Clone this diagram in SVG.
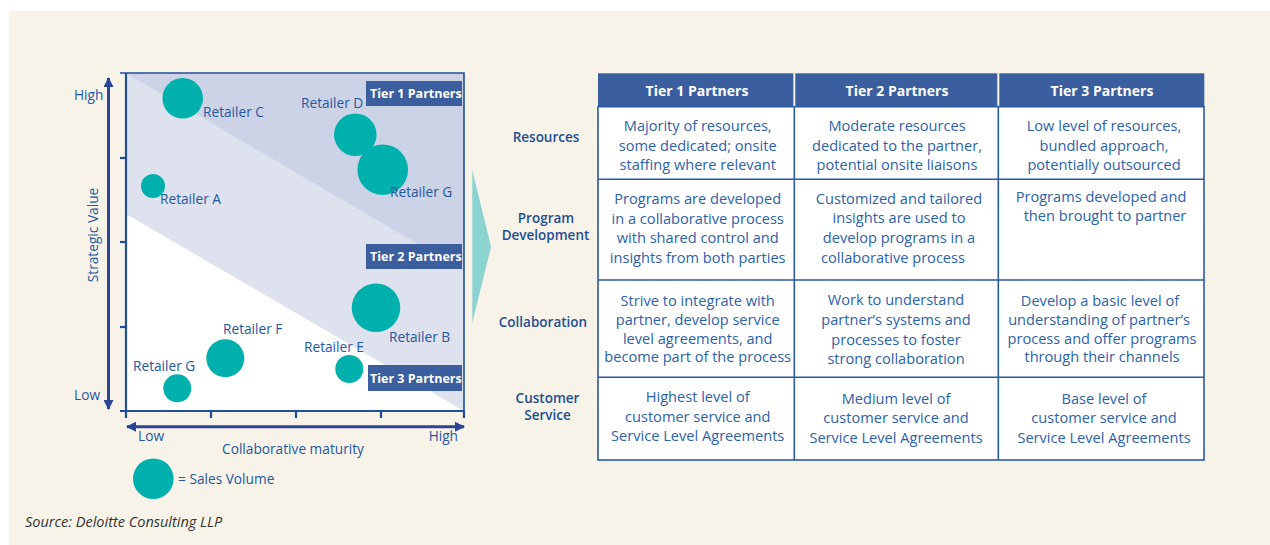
<svg xmlns="http://www.w3.org/2000/svg" width="1270" height="545" viewBox="0 0 1270 545">
<style>
.lbl{font-family:"Open Sans","Liberation Sans",sans-serif;font-size:13.7px;fill:#2458A0}
.tier{font-family:"Open Sans","Liberation Sans",sans-serif;font-size:12.5px;font-weight:700;fill:#fff}
.hdr{font-family:"Open Sans","Liberation Sans",sans-serif;font-size:14px;font-weight:700;fill:#fff;text-anchor:middle}
.row{font-family:"Open Sans","Liberation Sans",sans-serif;font-size:13.5px;font-weight:600;fill:#1F4F93;text-anchor:middle}
.cell{font-family:"Open Sans","Liberation Sans",sans-serif;font-size:14.6px;fill:#2C62AA;text-anchor:middle}
.bub{fill:#00B0AD}
.tbox{fill:#3A5E9E}
.ax{stroke:#2B4595;stroke-width:3;fill:none}
.grid{stroke:#2A5AA0;stroke-width:1.6;fill:none}
</style>
<defs>
<marker id="ah" markerWidth="10" markerHeight="10" refX="9" refY="5" orient="auto" markerUnits="userSpaceOnUse">
<path d="M0,0 L10,5 L0,10 Z" fill="#2B4595"/>
</marker>
</defs>
<rect x="0" y="0" width="1270" height="545" fill="#fff"/>
<rect x="9" y="11" width="1261" height="534" fill="#F7F3E8"/>

<g id="chart">
<rect x="126" y="73" width="338" height="338" fill="#fff"/>
<polygon points="126,73 464,73 464,411 126,214" fill="#DEE1EE"/>
<polygon points="126,73 464,73 464,271" fill="#CDD3E7"/>
<polyline points="120,73 464,73 464,411" class="grid" stroke-width="2.2" style="stroke:#1F4F9A"/>
<line x1="126" y1="73" x2="126" y2="418" style="stroke:#1F4F9A;stroke-width:2.2"/>
<line x1="120" y1="411" x2="464" y2="411" style="stroke:#1F4F9A;stroke-width:2.2"/>
<g style="stroke:#1F4F9A;stroke-width:2.2">
<line x1="120" y1="158" x2="126" y2="158"/>
<line x1="120" y1="242" x2="126" y2="242"/>
<line x1="120" y1="327" x2="126" y2="327"/>
<line x1="211" y1="411" x2="211" y2="418"/>
<line x1="296" y1="411" x2="296" y2="418"/>
<line x1="381" y1="411" x2="381" y2="418"/>
<line x1="464" y1="411" x2="464" y2="418"/>
</g>
</g>

<g id="axes">
<line x1="108.5" y1="243" x2="108.5" y2="78" class="ax" marker-end="url(#ah)"/>
<line x1="108.5" y1="243" x2="108.5" y2="409" class="ax" marker-end="url(#ah)"/>
<line x1="295" y1="426.7" x2="127" y2="426.7" class="ax" marker-end="url(#ah)"/>
<line x1="295" y1="426.7" x2="464" y2="426.7" class="ax" marker-end="url(#ah)"/>
<text class="lbl" x="74" y="100">High</text>
<text class="lbl" x="74" y="400">Low</text>
<text class="lbl" x="98" y="235" text-anchor="middle" transform="rotate(-90 98 235)">Strategic Value</text>
<text class="lbl" x="138" y="441">Low</text>
<text class="lbl" x="458" y="441" text-anchor="end">High</text>
<text class="lbl" x="293" y="454" text-anchor="middle">Collaborative maturity</text>
</g>

<g id="tier1-box"><rect class="tbox" x="366" y="81" width="96" height="25"/><text class="tier" x="370" y="98">Tier 1 Partners</text></g>
<g id="tier2-box"><rect class="tbox" x="366" y="244" width="96" height="25"/><text class="tier" x="370" y="261">Tier 2 Partners</text></g>
<g id="tier3-box"><rect class="tbox" x="368" y="365" width="94" height="26"/><text class="tier" x="370" y="383">Tier 3 Partners</text></g>

<g id="retailer-c"><circle class="bub" cx="182.7" cy="98.3" r="20.3"/><text class="lbl" x="203" y="117">Retailer C</text></g>
<g id="retailer-d"><circle class="bub" cx="355.3" cy="134.7" r="21.3"/><text class="lbl" x="301" y="108">Retailer D</text></g>
<g id="retailer-g1"><circle class="bub" cx="382.7" cy="169.7" r="25.3"/><text class="lbl" x="390" y="197">Retailer G</text></g>
<g id="retailer-a"><circle class="bub" cx="153" cy="186" r="12"/><text class="lbl" x="160" y="203.5">Retailer A</text></g>
<g id="retailer-b"><circle class="bub" cx="376" cy="307.7" r="24.3"/><text class="lbl" x="389" y="342">Retailer B</text></g>
<g id="retailer-f"><circle class="bub" cx="225.3" cy="358.3" r="19"/><text class="lbl" x="223" y="333.5">Retailer F</text></g>
<g id="retailer-e"><circle class="bub" cx="349.3" cy="369" r="14"/><text class="lbl" x="304" y="352">Retailer E</text></g>
<g id="retailer-g2"><circle class="bub" cx="177.3" cy="388.3" r="14"/><text class="lbl" x="133" y="371">Retailer G</text></g>
<g id="legend"><circle class="bub" cx="153.3" cy="478.7" r="20.3"/><text class="lbl" x="178" y="483.5">= Sales Volume</text></g>

<g id="connectors">
<polygon points="472.3,170 491,246.7 472.3,322.7" fill="#8AD3D0"/>
</g>

<g id="table">
<rect x="598" y="106.7" width="606" height="353.3" fill="#fff"/>
<rect class="tbox" x="598" y="73.3" width="195.3" height="33.4"/>
<rect class="tbox" x="795.3" y="73.3" width="202" height="33.4"/>
<rect class="tbox" x="999.3" y="73.3" width="205" height="33.4"/>
<text class="hdr" x="697" y="95.5">Tier 1 Partners</text>
<text class="hdr" x="897" y="95.5">Tier 2 Partners</text>
<text class="hdr" x="1102" y="95.5">Tier 3 Partners</text>
<g class="grid">
<rect x="598" y="106.7" width="606" height="353.3"/>
<line x1="598" y1="179.3" x2="1204" y2="179.3"/>
<line x1="598" y1="280" x2="1204" y2="280"/>
<line x1="598" y1="377.3" x2="1204" y2="377.3"/>
<line x1="794.3" y1="106.7" x2="794.3" y2="460"/>
<line x1="998.3" y1="106.7" x2="998.3" y2="460"/>
</g>
</g>

<g id="row-labels">
<text class="row" x="546" y="142">Resources</text>
<text class="row" x="546" y="223">Program</text>
<text class="row" x="545.5" y="239.5">Development</text>
<text class="row" x="543" y="327">Collaboration</text>
<text class="row" x="547.5" y="403">Customer</text>
<text class="row" x="547.5" y="419.5">Service</text>
</g>

<g id="cells">
<text class="cell" x="697.7" y="131">Majority of resources,</text>
<text class="cell" x="697.7" y="150.5">some dedicated; onsite</text>
<text class="cell" x="697.7" y="170">staffing where relevant</text>

<text class="cell" x="897" y="131">Moderate resources</text>
<text class="cell" x="897" y="150.5">dedicated to the partner,</text>
<text class="cell" x="897" y="170">potential onsite liaisons</text>

<text class="cell" x="1104" y="131">Low level of resources,</text>
<text class="cell" x="1104" y="150.5">bundled approach,</text>
<text class="cell" x="1104" y="170">potentially outsourced</text>

<text class="cell" x="697.7" y="204">Programs are developed</text>
<text class="cell" x="697.7" y="223.5">in a collaborative process</text>
<text class="cell" x="697.7" y="243">with shared control and</text>
<text class="cell" x="697.7" y="262.5">insights from both parties</text>

<text class="cell" x="899" y="203.5">Customized and tailored</text>
<text class="cell" x="899" y="223">insights are used to</text>
<text class="cell" x="899" y="242.5">develop programs in a</text>
<text class="cell" x="893" y="262.5">collaborative process</text>

<text class="cell" x="1101" y="202">Programs developed and</text>
<text class="cell" x="1105" y="220.5">then brought to partner</text>

<text class="cell" x="697.7" y="306">Strive to integrate with</text>
<text class="cell" x="697.7" y="324.5">partner, develop service</text>
<text class="cell" x="697.7" y="343.5">level agreements, and</text>
<text class="cell" x="697.7" y="361.5">become part of the process</text>

<text class="cell" x="896" y="305">Work to understand</text>
<text class="cell" x="896" y="325">partner’s systems and</text>
<text class="cell" x="896" y="345">processes to foster</text>
<text class="cell" x="896" y="364">strong collaboration</text>

<text class="cell" x="1100" y="306">Develop a basic level of</text>
<text class="cell" x="1099" y="324.5">understanding of partner’s</text>
<text class="cell" x="1102" y="343.5">process and offer programs</text>
<text class="cell" x="1102" y="361.5">through their channels</text>

<text class="cell" x="697.7" y="402">Highest level of</text>
<text class="cell" x="697.7" y="421.7">customer service and</text>
<text class="cell" x="697.7" y="441">Service Level Agreements</text>

<text class="cell" x="896" y="403.5">Medium level of</text>
<text class="cell" x="896" y="423">customer service and</text>
<text class="cell" x="896" y="443">Service Level Agreements</text>

<text class="cell" x="1104" y="403.5">Base level of</text>
<text class="cell" x="1104" y="423">customer service and</text>
<text class="cell" x="1104" y="443">Service Level Agreements</text>
</g>

<text x="25" y="527" font-family="'Open Sans','Liberation Sans',sans-serif" font-size="14.5" font-style="italic" fill="#333333">Source: Deloitte Consulting LLP</text>
</svg>
